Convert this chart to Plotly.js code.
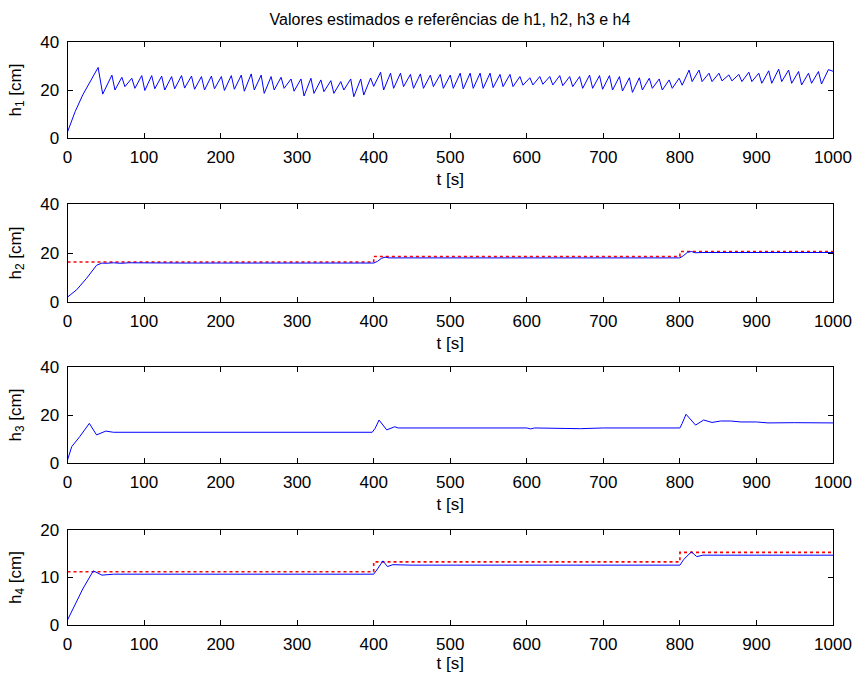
<!DOCTYPE html>
<html>
<head>
<meta charset="utf-8">
<script src="https://cdn.plot.ly/plotly-3.0.1.min.js"></script>
<style>html,body{margin:0;padding:0;background:#fff;}#chart{width:855px;height:673px;}</style>
</head>
<body>
<div id="chart"></div>
<script>
// ---- data ----
const h1_t = [0,10,20,30,40,46,58,62,71,75,84,88,97,101,110,114,123,127,136,140,149,153,162,166,175,179,188,192,201,205,214,218,227,231,240,244,253,257,266,270,279,283,292,296,305,309,318,322,331,335,344,348,357,361,370,374,383,387,396,400,409,413,422,426,435,439,448,452,461,465,474,478,487,491,500,504,513,517,526,530,539,543,552,556,565,569,578,582,591,595,604,608,617,621,630,634,643,647,656,660,669,673,682,686,695,699,708,712,721,725,734,738,747,751,760,764,773,777,786,790,799,803,812,816,825,829,838,842,851,855,864,868,877,881,890,894,903,907,916,920,929,933,942,946,955,959,968,972,981,985,994,1000];
const h1_v = [2.5,11,18,24,29.4,18.3,26.2,20,25.3,21.4,24.9,20.7,26,19.8,26,20.5,25.8,20,25.6,20.5,26,20.8,25.8,20.3,25.6,20,25.8,20.5,25.6,19.8,26,20.3,26.2,19.5,26.7,20,26.2,18.6,25.6,20,25.3,20.7,24.6,19.5,24.6,17.5,24.9,18.6,24.2,19.3,23.9,18.6,23.5,20,24.6,17.2,24.6,17.9,25,21.5,27.4,20,27,20.7,27,21.4,26.5,20.7,26.7,20.7,26.2,21.4,26.5,20.7,26.2,20.7,27,20.5,27,20.7,27,20.7,27,21,26.5,21.4,26.5,21.4,25.6,22,25.1,22.1,25.6,22.4,25.6,22.1,26,21.8,25.6,21.4,25.6,20.7,26.2,20.7,26,20.3,26,20,25.6,19.6,25.1,19,25.1,20,24.9,20.7,24.6,20,24.2,20.7,24.9,22,28.3,23.5,28.3,23.5,27,23.5,27,23.8,26.3,23.8,26.5,23.5,27.4,23.5,27,22.8,28,22.8,28.7,23.5,28.3,22.8,27.7,22.1,27,22.8,27.7,22.5,28.5,27.8];

const h2_t = [0,12,25,33,38,45,50,60,70,80,100,150,200,250,300,350,400,405,410,415,420,450,500,600,700,740,745,750,800,805,810,815,820,830,900,1000];
const h2_v = [2,5,9.7,13,15,15.9,15.8,16,15.8,16,15.9,15.9,15.9,15.9,15.9,15.9,15.9,16.6,17.8,18.3,18.0,18.0,18.0,18.0,18.0,17.7,18.0,18.0,18.0,19.0,20.3,20.6,20.1,20.2,20.2,20.2];
const h2ref_t = [0,400,400,800,800,1000];
const h2ref_v = [16.3,16.3,18.6,18.6,20.6,20.6];

const h3_t = [0,5.5,16,28.5,38,50,60,100,150,200,250,300,350,398,402,407,417,427.5,432,500,600,605,610,650,670,700,800,803,808,820.5,831,842,853,866,880,900,915,950,990,1000];
const h3_v = [1.2,6.8,11,16.5,11.7,13.3,12.8,12.8,12.8,12.8,12.8,12.8,12.8,12.8,14.5,17.9,13.8,15.1,14.6,14.6,14.6,14.2,14.6,14.4,14.3,14.6,14.6,16.5,20.3,15.8,17.9,16.9,17.5,17.5,17.1,17.1,16.7,16.8,16.9,16.7];

const h4_t = [0,10,20,33.7,45,60,100,150,200,250,300,350,400,405,412,418,425,450,500,600,700,800,805,815,822,830,900,1000];
const h4_v = [1.05,4.3,7.6,11.4,10.5,10.7,10.7,10.7,10.7,10.7,10.7,10.7,10.7,11.8,13.5,12.3,12.7,12.6,12.6,12.6,12.6,12.6,13.8,15.4,14.4,14.7,14.7,14.7];
const h4ref_t = [0,400,400,800,800,1000];
const h4ref_v = [11.2,11.2,13.3,13.3,15.3,15.3];

const xTicks = [0,100,200,300,400,500,600,700,800,900,1000];
const yTicksA = [0,20,40];
const yTicksB = [0,10,20];
const titleText = "Valores estimados e referências de h1, h2, h3 e h4";
const yTitles = ["h<sub>1</sub> [cm]","h<sub>2</sub> [cm]","h<sub>3</sub> [cm]","h<sub>4</sub> [cm]"];
const xTitle = "t [s]";

// ---- layout ----
const W = 855, H = 673;
const xDom = [67.5/W, 833/W];
const yPix = [[42,138],[204,302],[367,463],[530,625]];
const blue = {color:"#0000ff", width:1};
const red = {color:"#ff0000", width:1.6, dash:"dot"};

const traces = [
  {x:h1_t, y:h1_v, xaxis:"x", yaxis:"y", mode:"lines", line:blue},
  {x:h2ref_t, y:h2ref_v, xaxis:"x2", yaxis:"y2", mode:"lines", line:red},
  {x:h2_t, y:h2_v, xaxis:"x2", yaxis:"y2", mode:"lines", line:blue},
  {x:h3_t, y:h3_v, xaxis:"x3", yaxis:"y3", mode:"lines", line:blue},
  {x:h4ref_t, y:h4ref_v, xaxis:"x4", yaxis:"y4", mode:"lines", line:red},
  {x:h4_t, y:h4_v, xaxis:"x4", yaxis:"y4", mode:"lines", line:blue}
];

const font = {family:"Liberation Sans, Arial, sans-serif", size:17, color:"#000"};
const layout = {
  width:W, height:H, showlegend:false,
  margin:{l:0,r:0,t:0,b:0},
  paper_bgcolor:"#fff", plot_bgcolor:"#fff",
  font:font,
  title:{text:titleText, x:450/W, xanchor:"center", y:1-19/H, yanchor:"middle", font:{family:font.family,size:16,color:"#000"}}
};
for (let i=0;i<4;i++){
  const s = i===0 ? "" : String(i+1);
  const yr = i===3 ? [0,20] : [0,40];
  layout["xaxis"+s] = {
    domain:xDom, range:[0,1000], anchor:"y"+s,
    tickvals:xTicks, ticktext:xTicks.map(String), ticks:"inside", ticklen:5, tickcolor:"#000",
    showline:true, linecolor:"#000", linewidth:1, mirror:"ticks", showgrid:false, zeroline:false,
    tickfont:font, ticklabelstandoff:4, title:{text:xTitle, font:font, standoff:6}
  };
  layout["yaxis"+s] = {
    domain:[1-yPix[i][1]/H, 1-yPix[i][0]/H], range:yr, anchor:"x"+s,
    tickvals: i===3 ? yTicksB : yTicksA, ticks:"inside", ticklen:5, tickcolor:"#000",
    showline:true, linecolor:"#000", linewidth:1, mirror:"ticks", showgrid:false, zeroline:false,
    tickfont:font, ticklabelstandoff:4, title:{text:yTitles[i], font:font, standoff:14}
  };
}
Plotly.newPlot("chart", traces, layout, {staticPlot:true, displayModeBar:false});
</script>
</body>
</html>
